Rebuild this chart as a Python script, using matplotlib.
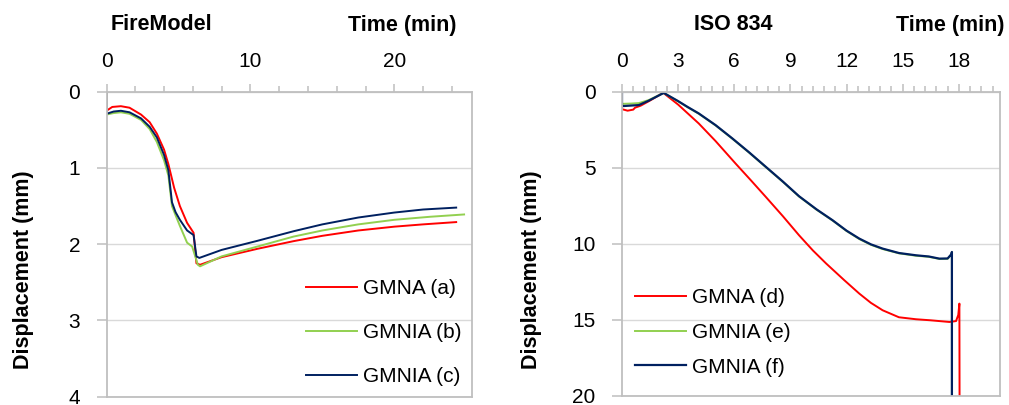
import matplotlib
matplotlib.use("Agg")
import matplotlib.pyplot as plt
from matplotlib.ticker import MultipleLocator

plt.rcParams["font.family"] = ["Liberation Sans", "DejaVu Sans"]

RED = "#FF0000"
GREEN = "#92D050"
NAVY = "#002060"
SPINE = "#BFBFBF"
GRID = "#D9D9D9"

# FireModel (left)
fm_t_a = [0, 0, 0.4, 1.0, 1.6, 2.4, 3.0, 3.5, 4.0, 4.3, 4.7, 5.1, 5.6, 6.05,
          6.25, 6.5, 8.0, 10.5, 13.0, 15.0, 17.5, 20.0, 22.0, 24.3]
fm_d_a = [0, 0.25, 0.20, 0.19, 0.21, 0.30, 0.40, 0.55, 0.76, 0.95, 1.26, 1.50,
          1.72, 1.85, 2.25, 2.27, 2.17, 2.06, 1.96, 1.89, 1.82, 1.77, 1.74, 1.71]
fm_t_b = [0, 0, 0.5, 1.0, 1.6, 2.4, 3.0, 3.5, 4.0, 4.3, 4.55, 4.8, 5.1, 5.6,
          5.95, 6.35, 6.5, 8.0, 10.5, 13.0, 15.0, 17.5, 20.0, 22.5, 24.85]
fm_d_b = [0, 0.30, 0.28, 0.27, 0.29, 0.37, 0.49, 0.66, 0.90, 1.10, 1.50, 1.62,
          1.76, 1.98, 2.03, 2.27, 2.29, 2.16, 2.03, 1.90, 1.82, 1.74, 1.68,
          1.64, 1.61]
fm_t_c = [0, 0, 0.5, 1.0, 1.6, 2.4, 3.0, 3.5, 4.0, 4.3, 4.55, 4.8, 5.1, 5.6,
          6.05, 6.25, 6.45, 8.0, 10.5, 13.0, 15.0, 17.5, 20.0, 22.0, 24.3]
fm_d_c = [0, 0.29, 0.26, 0.25, 0.27, 0.35, 0.46, 0.60, 0.83, 1.03, 1.45, 1.58,
          1.68, 1.82, 1.88, 2.16, 2.18, 2.075, 1.955, 1.83, 1.74, 1.65, 1.585,
          1.545, 1.52]

# ISO 834 (right)
iso_t_d = [0, 0, 0.3, 0.6, 0.7, 1.0, 1.5, 2.2, 3.0, 4.1, 5.0, 6.07, 6.9, 7.68,
           8.6, 9.46, 10.2, 10.9, 11.87, 12.68, 13.3, 13.93, 14.8, 15.71,
           16.5, 17.5, 17.85, 17.97, 18.03, 18.04]
iso_d_d = [0, 1.15, 1.25, 1.18, 1.05, 0.92, 0.58, 0.07, 0.85, 2.09, 3.25,
           4.73, 5.85, 6.92, 8.2, 9.45, 10.45, 11.3, 12.4, 13.29, 13.9, 14.39,
           14.85, 14.98, 15.05, 15.16, 15.1, 14.7, 13.95, 21]
iso_t_e = [0, 0, 0.5, 0.9, 1.43, 2.23, 3.0, 3.5, 4.1, 5.0, 5.89, 6.8, 7.68,
           8.6, 9.46, 10.4, 11.25, 12.0, 12.68, 13.3, 13.93, 14.8, 15.71,
           16.4, 16.96, 17.4, 17.6, 17.63, 17.63]
iso_d_e = [0, 0.80, 0.78, 0.75, 0.55, 0.08, 0.64, 1.02, 1.45, 2.22, 3.09,
           4.02, 4.96, 5.94, 6.90, 7.77, 8.48, 9.17, 9.70, 10.08, 10.36, 10.64,
           10.80, 10.87, 11.01, 11.0, 10.72, 10.57, 21]
iso_t_f = [0, 0, 0.9, 1.43, 2.23, 3.0, 3.5, 4.1, 5.0, 5.89, 6.8, 7.68, 8.6,
           9.46, 10.4, 11.25, 12.0, 12.68, 13.3, 13.93, 14.8, 15.71, 16.4,
           16.96, 17.4, 17.6, 17.63, 17.63]
iso_d_f = [0, 0.95, 0.88, 0.59, 0.08, 0.62, 1.0, 1.43, 2.2, 3.07, 4.0, 4.94,
           5.92, 6.88, 7.75, 8.46, 9.15, 9.67, 10.05, 10.33, 10.62, 10.77,
           10.85, 10.99, 10.98, 10.70, 10.55, 21]

W, H = 1009, 405


def style_axes(ax, xmajor, xminor, ymajor):
    ax.invert_yaxis()
    ax.xaxis.tick_top()
    ax.xaxis.set_major_locator(MultipleLocator(xmajor))
    ax.xaxis.set_minor_locator(MultipleLocator(xminor))
    ax.yaxis.set_major_locator(MultipleLocator(ymajor))
    for s in ax.spines.values():
        s.set_color(SPINE)
        s.set_linewidth(1.3)
    ax.tick_params(axis="x", which="major", length=6, width=1.1, color=SPINE,
                   labelsize=15, pad=9, direction="out")
    ax.tick_params(axis="x", which="minor", length=4, width=1.1, color=SPINE,
                   direction="out")
    ax.tick_params(axis="y", which="major", length=7, width=1.1, color=SPINE,
                   labelsize=15, pad=12, direction="out")
    ax.grid(axis="y", color=GRID, linewidth=1.0)
    ax.set_axisbelow(True)


fig = plt.figure(figsize=(W / 100, H / 100), dpi=100)

ax1 = fig.add_axes([106.5 / W, 1 - 396.7 / H, (472 - 106.5) / W,
                    (396.7 - 91.7) / H])
ax1.plot(fm_t_a, fm_d_a, color=RED, lw=1.4, label="GMNA (a)")
ax1.plot(fm_t_b, fm_d_b, color=GREEN, lw=1.4, label="GMNIA (b)")
ax1.plot(fm_t_c, fm_d_c, color=NAVY, lw=1.4, label="GMNIA (c)")
ax1.set_xlim(0, 25.4)
ax1.set_ylim(0, 4)
style_axes(ax1, 10, 2, 1)
ax1.legend(loc="center left", bbox_to_anchor=(0.546, 0.21), frameon=False,
           fontsize=15, handlelength=2.45, handletextpad=0.3,
           labelspacing=1.2, borderpad=0, borderaxespad=0)

ax2 = fig.add_axes([622 / W, 1 - 395.5 / H, (1000 - 622) / W,
                    (395.5 - 91.7) / H])
ax2.plot(iso_t_d, iso_d_d, color=RED, lw=1.4, label="GMNA (d)")
ax2.plot(iso_t_e, iso_d_e, color=GREEN, lw=1.4, label="GMNIA (e)")
ax2.plot(iso_t_f, iso_d_f, color=NAVY, lw=1.6, label="GMNIA (f)")
ax2.set_xlim(0, 20.2)
ax2.set_ylim(0, 20)
style_axes(ax2, 3, 0.6, 5)
ax2.legend(loc="center left", bbox_to_anchor=(0.0345, 0.2075), frameon=False,
           fontsize=15, handlelength=2.45, handletextpad=0.3,
           labelspacing=0.75, borderpad=0, borderaxespad=0)

for x in (24, 532):
    fig.text(x / W, 1 - 270 / H, "Displacement (mm)", fontsize=15.5,
             fontweight="bold", rotation=90, ha="center", va="center")

fig.text(161 / W, 1 - 25 / H, "FireModel", fontsize=15.5, fontweight="bold",
         ha="center", va="center")
fig.text(457 / W, 1 - 25 / H, "Time (min)", fontsize=15.5, fontweight="bold",
         ha="right", va="center")
fig.text(733 / W, 1 - 25 / H, "ISO 834", fontsize=15.5, fontweight="bold",
         ha="center", va="center")
fig.text(1005 / W, 1 - 25 / H, "Time (min)", fontsize=15.5, fontweight="bold",
         ha="right", va="center")

fig.savefig("out.png", dpi=100)
